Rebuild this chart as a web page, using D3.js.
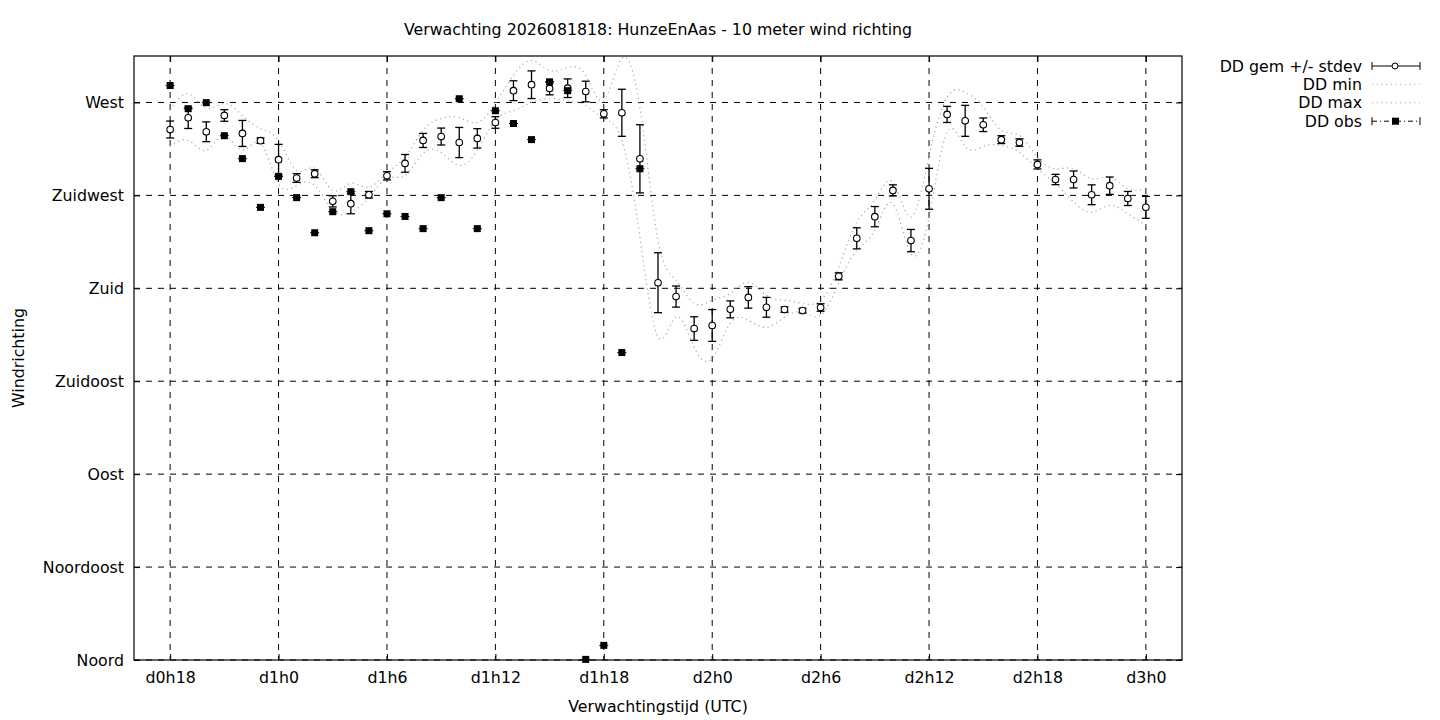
<!DOCTYPE html>
<html>
<head>
<meta charset="utf-8">
<script src="https://cdn.jsdelivr.net/npm/d3@7"></script>
<style>
  body { margin: 0; background: #fff; }
  text { font-family: "DejaVu Sans", sans-serif; font-size: 15.8px; fill: #000; }
</style>
</head>
<body>
<div id="chart"></div>
<script>
// forecast hours since d0h0
const hours = [18, 19, 20, 21, 22, 23, 24, 25, 26, 27, 28, 29, 30, 31, 32, 33, 34, 35, 36,
  37, 38, 39, 40, 41, 42, 43, 44, 45, 46, 47, 48, 49, 50, 51, 52, 53, 54, 55,
  56, 57, 58, 59, 60, 61, 62, 63, 64, 65, 66, 67, 68, 69, 70, 71, 72];
const ddMean = [256.9, 262.6, 255.8, 263.7, 255.0, 251.5, 242.3, 233.4, 235.5, 222.1, 221.0, 225.3,
  234.5, 240.5, 251.6, 253.5, 250.6, 252.6, 260.3, 275.7, 278.6, 276.8, 276.9, 275.3, 264.5,
  265.0, 242.7, 182.7, 176.0, 160.5, 162.0, 169.8, 175.6, 170.8, 169.7, 169.2, 170.7, 185.8,
  204.2, 214.7, 227.4, 203.1, 228.2, 264.2, 261.1, 259.2, 252.0, 250.6, 240.0, 232.7, 232.7,
  225.3, 229.7, 223.5, 219.2];
const ddStdev = [4.1, 5.2, 4.8, 2.8, 6.3, 1.3, 7.4, 2.1, 1.9, 2.7, 4.9, 1.6, 2.0, 4.3, 3.4, 4.1,
  7.3, 4.7, 2.8, 4.8, 6.7, 3.1, 4.5, 5.0, 2.0, 11.4, 16.5, 14.5, 5.1, 5.7, 7.7, 4.1, 5.2, 4.8,
  1.3, 1.1, 1.8, 1.7, 5.1, 4.9, 2.7, 5.4, 9.9, 3.9, 7.5, 3.3, 1.9, 1.8, 2.2, 2.5, 4.1, 4.8,
  4.2, 3.4, 5.3];
const ddMin = [248.7, 251.6, 246.8, 254.0, 246.8, 250.2, 230.8, 229.8, 229.8, 217.7, 216.8, 224.0,
  233.2, 234.7, 245.3, 245.8, 239.5, 246.8, 261.3, 266.1, 270.0, 271.9, 271.0, 268.5, 262.3,
  251.6, 204.8, 156.4, 166.1, 151.5, 146.1, 163.1, 164.5, 161.1, 166.0, 168.4, 166.9, 182.4,
  198.4, 208.1, 221.0, 196.8, 214.5, 255.6, 248.7, 248.7, 249.2, 245.9, 237.9, 230.7, 221.8,
  216.9, 220.2, 216.1, 210.5];
const ddMax = [266.1, 274.2, 267.1, 269.5, 263.7, 257.4, 251.6, 237.1, 238.1, 227.4, 230.8, 228.9,
  236.1, 243.4, 256.5, 262.3, 262.7, 260.3, 269.5, 283.1, 290.3, 285.5, 286.9, 283.1, 271.0,
  291.3, 267.6, 203.2, 183.9, 172.7, 174.2, 177.6, 182.9, 176.6, 174.2, 172.7, 174.2, 190.2,
  212.0, 222.6, 231.4, 214.5, 244.0, 272.6, 275.0, 267.7, 256.5, 254.0, 243.5, 237.9, 238.0,
  233.1, 233.9, 228.2, 228.2];
const obsHours = [18, 19, 20, 21, 22, 23, 24, 25, 26, 27, 28, 29, 30, 31, 32, 33, 34, 35, 36,
  37, 38, 39, 40, 41, 42, 43, 44];
const ddObs = [278.2, 267.0, 269.9, 253.9, 242.8, 219.2, 234.2, 223.9, 206.9, 217.1, 226.8, 207.9,
  216.1, 214.8, 208.9, 223.9, 271.8, 208.9, 266.0, 259.8, 252.0, 280.0, 275.7, 0.3, 7.1,
  148.9, 237.9];
const yTickValues = [0, 45, 90, 135, 180, 225, 270];
const yTickLabels = ["Noord", "Noordoost", "Oost", "Zuidoost", "Zuid", "Zuidwest", "West"];
const xTickValues = [18, 24, 30, 36, 42, 48, 54, 60, 66, 72];
const xTickLabels = ["d0h18", "d1h0", "d1h6", "d1h12", "d1h18", "d2h0", "d2h6", "d2h12", "d2h18", "d3h0"];

const margin = { top: 56, right: 258, bottom: 60, left: 134 };
const width = 1440 - margin.left - margin.right;
const height = 720 - margin.top - margin.bottom;

const root = d3.select("#chart")
  .append("svg")
  .attr("width", 1440)
  .attr("height", 720);
const svg = root.append("g")
  .attr("transform", `translate(${margin.left},${margin.top})`);

const x = d3.scaleLinear().domain([16, 74]).range([0, width]);
const y = d3.scaleLinear().domain([0, 292.5]).range([height, 0]);

svg.append("clipPath").attr("id", "clip")
  .append("rect").attr("width", width).attr("height", height);

// grid
svg.append("g")
  .selectAll("line")
  .data(xTickValues)
  .enter().append("line")
  .attr("x1", d => x(d)).attr("x2", d => x(d))
  .attr("y1", 0).attr("y2", height)
  .attr("stroke", "#000").attr("stroke-dasharray", "6,6");
svg.append("g")
  .selectAll("line")
  .data(yTickValues)
  .enter().append("line")
  .attr("x1", 0).attr("x2", width)
  .attr("y1", d => y(d)).attr("y2", d => y(d))
  .attr("stroke", "#000").attr("stroke-dasharray", "6,6");

// axes (ticks inward, gnuplot style)
svg.append("g")
  .attr("transform", `translate(0,${height})`)
  .call(d3.axisBottom(x).tickValues(xTickValues).tickSizeInner(-6).tickSizeOuter(0).tickPadding(12)
    .tickFormat((d, i) => xTickLabels[i]));
svg.append("g")
  .call(d3.axisTop(x).tickValues(xTickValues).tickSizeInner(-6).tickSizeOuter(0).tickFormat(""));
svg.append("g")
  .call(d3.axisLeft(y).tickValues(yTickValues).tickSizeInner(-6).tickSizeOuter(0).tickPadding(10)
    .tickFormat((d, i) => yTickLabels[i]));
svg.append("g")
  .attr("transform", `translate(${width},0)`)
  .call(d3.axisRight(y).tickValues(yTickValues).tickSizeInner(-6).tickSizeOuter(0).tickFormat(""));
svg.selectAll(".domain").remove();
svg.selectAll(".tick text").attr("font-size", "15.8px").attr("font-family", "DejaVu Sans");
svg.selectAll(".tick line").attr("stroke", "#000");

// border
svg.append("rect")
  .attr("width", width).attr("height", height)
  .attr("fill", "none").attr("stroke", "#000").attr("stroke-width", 1.2);

// min / max dotted splines
const band = svg.append("g").attr("clip-path", "url(#clip)");
[ddMin, ddMax].forEach(series => {
  const line = d3.line()
    .x((d, i) => x(hours[i]))
    .y(d => y(d))
    .curve(d3.curveNatural);
  band.append("path")
    .datum(series)
    .attr("d", line)
    .attr("fill", "none")
    .attr("stroke", "#a8a8a8")
    .attr("stroke-width", 1.2)
    .attr("stroke-dasharray", "1.2,3.5");
});

// mean +/- stdev
const means = hours.map((h, i) => ({ h, m: ddMean[i], s: ddStdev[i] }));
const eb = svg.append("g").attr("stroke", "#000").attr("stroke-width", 1.3);
eb.selectAll(".bar")
  .data(means).enter().append("line")
  .attr("x1", d => x(d.h)).attr("x2", d => x(d.h))
  .attr("y1", d => y(d.m - d.s)).attr("y2", d => y(d.m + d.s));
eb.selectAll(".capTop")
  .data(means).enter().append("line")
  .attr("x1", d => x(d.h) - 4).attr("x2", d => x(d.h) + 4)
  .attr("y1", d => y(d.m + d.s)).attr("y2", d => y(d.m + d.s));
eb.selectAll(".capBot")
  .data(means).enter().append("line")
  .attr("x1", d => x(d.h) - 4).attr("x2", d => x(d.h) + 4)
  .attr("y1", d => y(d.m - d.s)).attr("y2", d => y(d.m - d.s));
svg.selectAll(".mean")
  .data(means).enter().append("circle")
  .attr("cx", d => x(d.h)).attr("cy", d => y(d.m))
  .attr("r", 3.3)
  .attr("fill", "#fff").attr("stroke", "#000").attr("stroke-width", 1.1);

// observations
const obs = obsHours.map((h, i) => ({ h, v: ddObs[i] }));
svg.selectAll(".obsCap")
  .data(obs).enter().append("line")
  .attr("x1", d => x(d.h) - 4.5).attr("x2", d => x(d.h) + 4.5)
  .attr("y1", d => y(d.v)).attr("y2", d => y(d.v))
  .attr("stroke", "#000");
svg.selectAll(".obs")
  .data(obs).enter().append("rect")
  .attr("x", d => x(d.h) - 3.5).attr("y", d => y(d.v) - 3.5)
  .attr("width", 7).attr("height", 7)
  .attr("fill", "#000");

// titles
root.append("text")
  .attr("x", margin.left + width / 2).attr("y", 35)
  .attr("text-anchor", "middle")
  .text("Verwachting 2026081818: HunzeEnAas - 10 meter wind richting");
root.append("text")
  .attr("x", margin.left + width / 2).attr("y", 712)
  .attr("text-anchor", "middle")
  .text("Verwachtingstijd (UTC)");
root.append("text")
  .attr("transform", `translate(24,${margin.top + height / 2}) rotate(-90)`)
  .attr("text-anchor", "middle")
  .text("Windrichting");

// legend
const legend = root.append("g").attr("transform", "translate(1362,66)");
const rows = ["DD gem +/- stdev", "DD min", "DD max", "DD obs"];
rows.forEach((label, i) => {
  const g = legend.append("g").attr("transform", `translate(0,${i * 18.4})`);
  g.append("text").attr("x", 0).attr("y", 5.5).attr("text-anchor", "end").text(label);
  if (i === 0 || i === 3) {
    g.append("line").attr("x1", 10).attr("x2", 58).attr("y1", 0).attr("y2", 0)
      .attr("stroke", "#000").attr("stroke-dasharray", i === 3 ? "5,3,1,3" : null);
    g.append("line").attr("x1", 10).attr("x2", 10).attr("y1", -4).attr("y2", 4).attr("stroke", "#000");
    g.append("line").attr("x1", 58).attr("x2", 58).attr("y1", -4).attr("y2", 4).attr("stroke", "#000");
    if (i === 0) {
      g.append("circle").attr("cx", 33).attr("cy", 0).attr("r", 3)
        .attr("fill", "#fff").attr("stroke", "#000");
    } else {
      g.append("rect").attr("x", 30).attr("y", -3.5).attr("width", 7).attr("height", 7).attr("fill", "#000");
    }
  } else {
    g.append("line").attr("x1", 10).attr("x2", 58).attr("y1", 0).attr("y2", 0)
      .attr("stroke", "#a8a8a8").attr("stroke-dasharray", "1.2,3.5");
  }
});
</script>
</body>
</html>
